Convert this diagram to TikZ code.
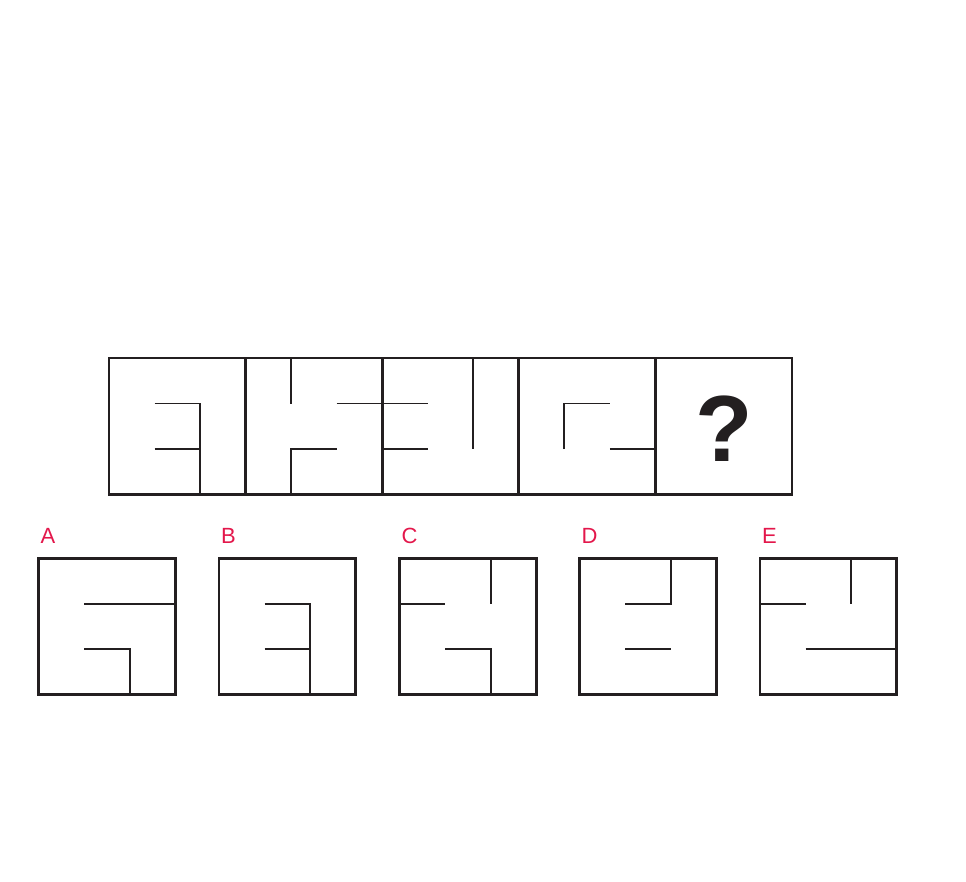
\documentclass[tikz,border=0pt]{standalone}
\usepackage{fontspec}
\setmainfont{Liberation Sans}
\definecolor{ink}{HTML}{231F20}
\definecolor{lab}{HTML}{E3174B}
\begin{document}
\begin{tikzpicture}[x=1pt,y=-1pt,
  frame/.style={draw=ink,line width=2.8pt},
  wall/.style={draw=ink,line width=1.9pt},
  optlabel/.style={text=lab,font=\fontsize{22}{22}\selectfont,anchor=base west,inner sep=0pt},
  cellscope/.style={x=45.53pt,y=-45.53pt}]
\useasboundingbox (0,0) rectangle (966,882);
% top row frame
\draw[frame] (109,358) rectangle (792,494.6);
\foreach \xx in {245.6,382.2,518.8,655.4} \draw[frame] (\xx,358) -- (\xx,494.6);
% cell 1
\begin{scope}[shift={(109,358)},cellscope]
\draw[wall] (1,1) -- (2,1) -- (2,3);
\draw[wall] (1,2) -- (2,2);
\end{scope}
% cell 2
\begin{scope}[shift={(245.6,358)},cellscope]
\draw[wall] (1,0) -- (1,1);
\draw[wall] (2,1) -- (4,1);
\draw[wall] (1,3) -- (1,2) -- (2,2);
\end{scope}
% cell 3
\begin{scope}[shift={(382.2,358)},cellscope]
\draw[wall] (0,2) -- (1,2);
\draw[wall] (2,0) -- (2,2);
\end{scope}
% cell 4
\begin{scope}[shift={(518.8,358)},cellscope]
\draw[wall] (1,2) -- (1,1) -- (2,1);
\draw[wall] (2,2) -- (3,2);
\end{scope}
% cell 5
\node[text=ink,font=\fontsize{94}{94}\selectfont\bfseries,anchor=base,inner sep=0pt] (q) at (723.7,461) {?};
% options
\foreach \ox/\nm in {38.5/A,219/B,399.5/C,579.5/D,760/E}{
  \draw[frame] (\ox,558.3) rectangle ++(136.6,136.2);
  \node[optlabel] (lab\nm) at (\ox+1.8,543.5) {\nm};
}
% A
\begin{scope}[shift={(38.5,558.3)},cellscope,y=-45.4pt]
\draw[wall] (1,1) -- (3,1);
\draw[wall] (1,2) -- (2,2) -- (2,3);
\end{scope}
% B
\begin{scope}[shift={(219,558.3)},cellscope,y=-45.4pt]
\draw[wall] (1,1) -- (2,1) -- (2,3);
\draw[wall] (1,2) -- (2,2);
\end{scope}
% C
\begin{scope}[shift={(399.5,558.3)},cellscope,y=-45.4pt]
\draw[wall] (0,1) -- (1,1);
\draw[wall] (2,0) -- (2,1);
\draw[wall] (1,2) -- (2,2) -- (2,3);
\end{scope}
% D
\begin{scope}[shift={(579.5,558.3)},cellscope,y=-45.4pt]
\draw[wall] (2,0) -- (2,1) -- (1,1);
\draw[wall] (1,2) -- (2,2);
\end{scope}
% E
\begin{scope}[shift={(760,558.3)},cellscope,y=-45.4pt]
\draw[wall] (0,1) -- (1,1);
\draw[wall] (2,0) -- (2,1);
\draw[wall] (1,2) -- (3,2);
\end{scope}
\end{tikzpicture}
\end{document}
